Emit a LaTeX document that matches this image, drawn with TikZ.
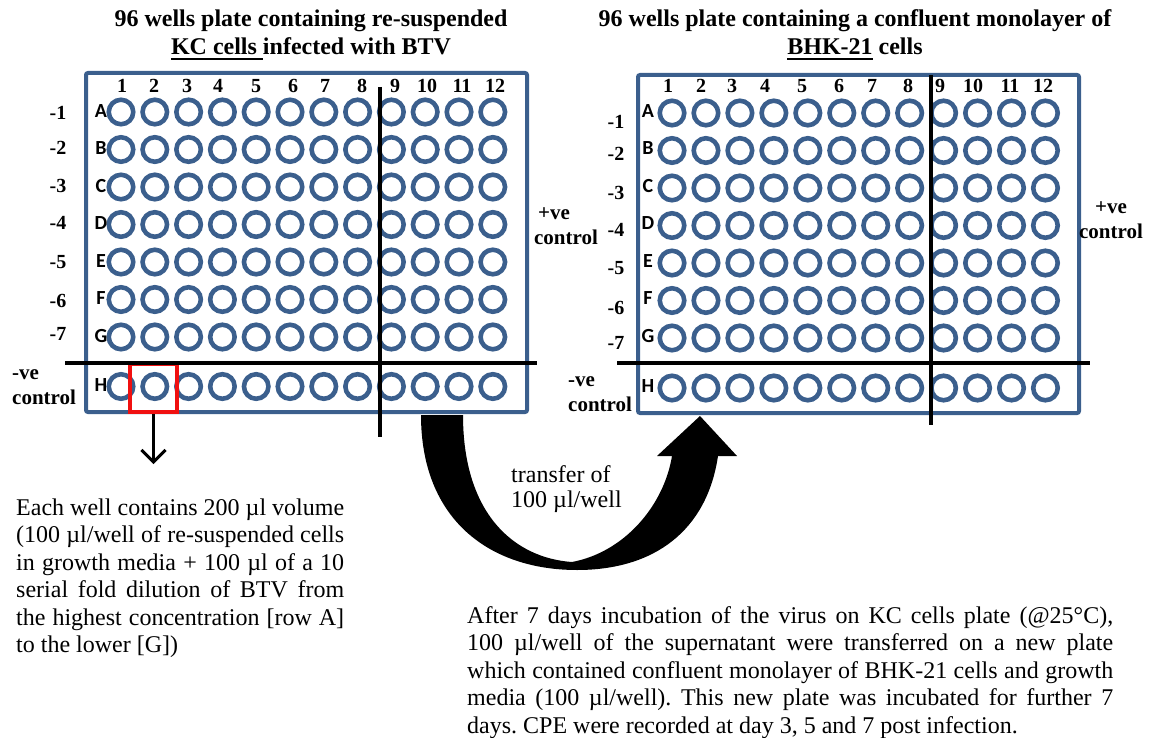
\documentclass[tikz,border=0pt]{standalone}
\usepackage{fontspec}
\setmainfont{Liberation Serif}
\newfontfamily\calibrifont{Carlito}
\usetikzlibrary{arrows.meta}
\definecolor{plateblue}{RGB}{59,95,141}
\definecolor{selred}{RGB}{240,16,16}
\newcommand\ulbox[1]{\vtop{\hbox{#1}\kern2.5pt\hrule height 2pt}}
\newcommand\nohyph{\tolerance=10000 \hyphenpenalty=10000 \exhyphenpenalty=10000 \frenchspacing}
\begin{document}
\begin{tikzpicture}[x=1pt,y=-1pt,
  plate/.style={draw=plateblue,line width=4pt,rounded corners=2pt},
  well/.style={circle,draw=plateblue,line width=4.6pt,minimum size=24.5pt,inner sep=0pt},
  rowlab/.style={font=\calibrifont\bfseries\fontsize{20}{20}\selectfont,inner sep=0pt},
  collab/.style={font=\bfseries\fontsize{20}{20}\selectfont,inner sep=0pt,anchor=base},
  dillab/.style={font=\bfseries\fontsize{20}{20}\selectfont,inner sep=0pt},
  ctrlleft/.style={font=\bfseries\fontsize{21}{21}\selectfont,inner sep=0pt,anchor=base west},
  ctrlmid/.style={font=\bfseries\fontsize{21}{21}\selectfont,inner sep=0pt,anchor=base},
  divider/.style={line width=4.5pt},
  title/.style={font=\bfseries\fontsize{24}{28}\selectfont,inner sep=0pt,anchor=base},
  body/.style={font=\fontsize{24}{27.5}\selectfont,inner sep=0pt,anchor=base west,align=justify},
  plain/.style={font=\fontsize{24}{26}\selectfont,inner sep=0pt,anchor=base west},
  selbox/.style={draw=selred,line width=4pt,minimum width=47pt,minimum height=48pt,inner sep=0pt},
  thinarrow/.style={line width=3pt,-{Straight Barb[length=12pt,width=24pt]}}
]
\useasboundingbox (0,0) rectangle (1159,738);

% titles
\node[title] (t1a) at (311,27) {96 wells plate containing re-suspended};
\node[title] (t1b) at (311,55) {\ulbox{KC cells }infected with BTV};
\node[title] (t2a) at (855,27) {96 wells plate containing a confluent monolayer of};
\node[title] (t2b) at (855,55) {\ulbox{BHK-21} cells};

% plates
\draw[plate] (86,73) rectangle (527,412);
\draw[plate] (638,75) rectangle (1079,413);

% left plate wells
\foreach \r/\y in {A/112,B/149.5,C/187,D/224.5,E/262,F/299.5,G/337,H/386.5} {
  \foreach \c in {1,...,12} \node[well] (L\r\c) at ({121+(\c-1)*33.8},\y) {};
  \node[rowlab] (Lrow\r) at (101,\y-1) {\r};
}
% right plate wells
\foreach \r/\y in {A/113,B/150.5,C/188,D/225.5,E/263,F/300.5,G/338,H/388} {
  \foreach \c in {1,...,12} \node[well] (R\r\c) at ({672+(\c-1)*33.95},\y) {};
  \node[rowlab] (Rrow\r) at (648,\y-2) {\r};
}

% column numbers
\foreach \n/\x in {1/122,2/154,3/187,4/218,5/256,6/293,7/325,8/362,9/395,10/427,11/462,12/495}
  \node[collab] (Lcol\n) at (\x,93) {\n};
\foreach \n/\x in {1/668,2/701,3/732,4/765,5/802,6/839,7/872,8/908,9/940,10/973,11/1010,12/1043}
  \node[collab] (Rcol\n) at (\x,93) {\n};

% dilution labels
\foreach \n/\y in {1/113,2/148,3/186,4/223,5/262,6/301,7/334}
  \node[dillab] (Ldil\n) at (58,\y) {-\n};
\foreach \n/\y in {1/122,2/154,3/193,4/230,5/268,6/308,7/343}
  \node[dillab] (Rdil\n) at (616,\y) {-\n};

% control labels
\node[ctrlleft] (Lneg1) at (12,379) {-ve};
\node[ctrlleft] (Lneg2) at (12,404) {control};
\node[ctrlleft] (Rneg1) at (568,386) {-ve};
\node[ctrlleft] (Rneg2) at (568,411) {control};
\node[ctrlmid] (Lpos1) at (554,219) {+ve};
\node[ctrlmid] (Lpos2) at (566,244) {control};
\node[ctrlmid] (Rpos1) at (1111,214) {+ve};
\node[ctrlmid] (Rpos2) at (1111,239) {control};

% selected well box
\node[selbox] (sel) at (153.5,388) {};
\coordinate (selend) at (153.5,464);
\draw[thinarrow] (sel.south) -- (selend);

% dividers
\draw[divider] (65,363) -- (537,363);
\draw[divider] (380,87) -- (380,437);
\draw[divider] (617,363) -- (1090,363);
\draw[divider] (931,75) -- (931,425);

% big transfer arrow
\fill[black] (421,415) -- (463,415)
  .. controls (463,515) and (515,558) .. (572,562)
  .. controls (625,552) and (664,505) .. (672,456)
  -- (657,456) -- (700,416) -- (737,456) -- (718,456)
  .. controls (707,530) and (655,570) .. (577,570)
  .. controls (490,570) and (421,520) .. (421,415) -- cycle;

\node[plain] (tr1) at (511,482) {transfer of};
\node[plain] (tr2) at (511,507) {100 µl/well};

% paragraphs
\node[body,text width=328pt] (note) at (16,515) {\nohyph Each well contains 200 µl volume\linebreak (100 µl/well of re-suspended cells\linebreak in growth media + 100 µl of a 10\linebreak serial fold dilution of BTV from\linebreak the highest concentration [row A]\linebreak to the lower [G])};
\node[body,text width=646pt] (after) at (467,623) {\nohyph After 7 days incubation of the virus on KC cells plate (@25°C),\linebreak 100 µl/well of the supernatant were transferred on a new plate\linebreak which contained confluent monolayer of BHK-21 cells and growth\linebreak media (100 µl/well). This new plate was incubated for further 7\linebreak days. CPE were recorded at day 3, 5 and 7 post infection.};
\end{tikzpicture}
\end{document}
